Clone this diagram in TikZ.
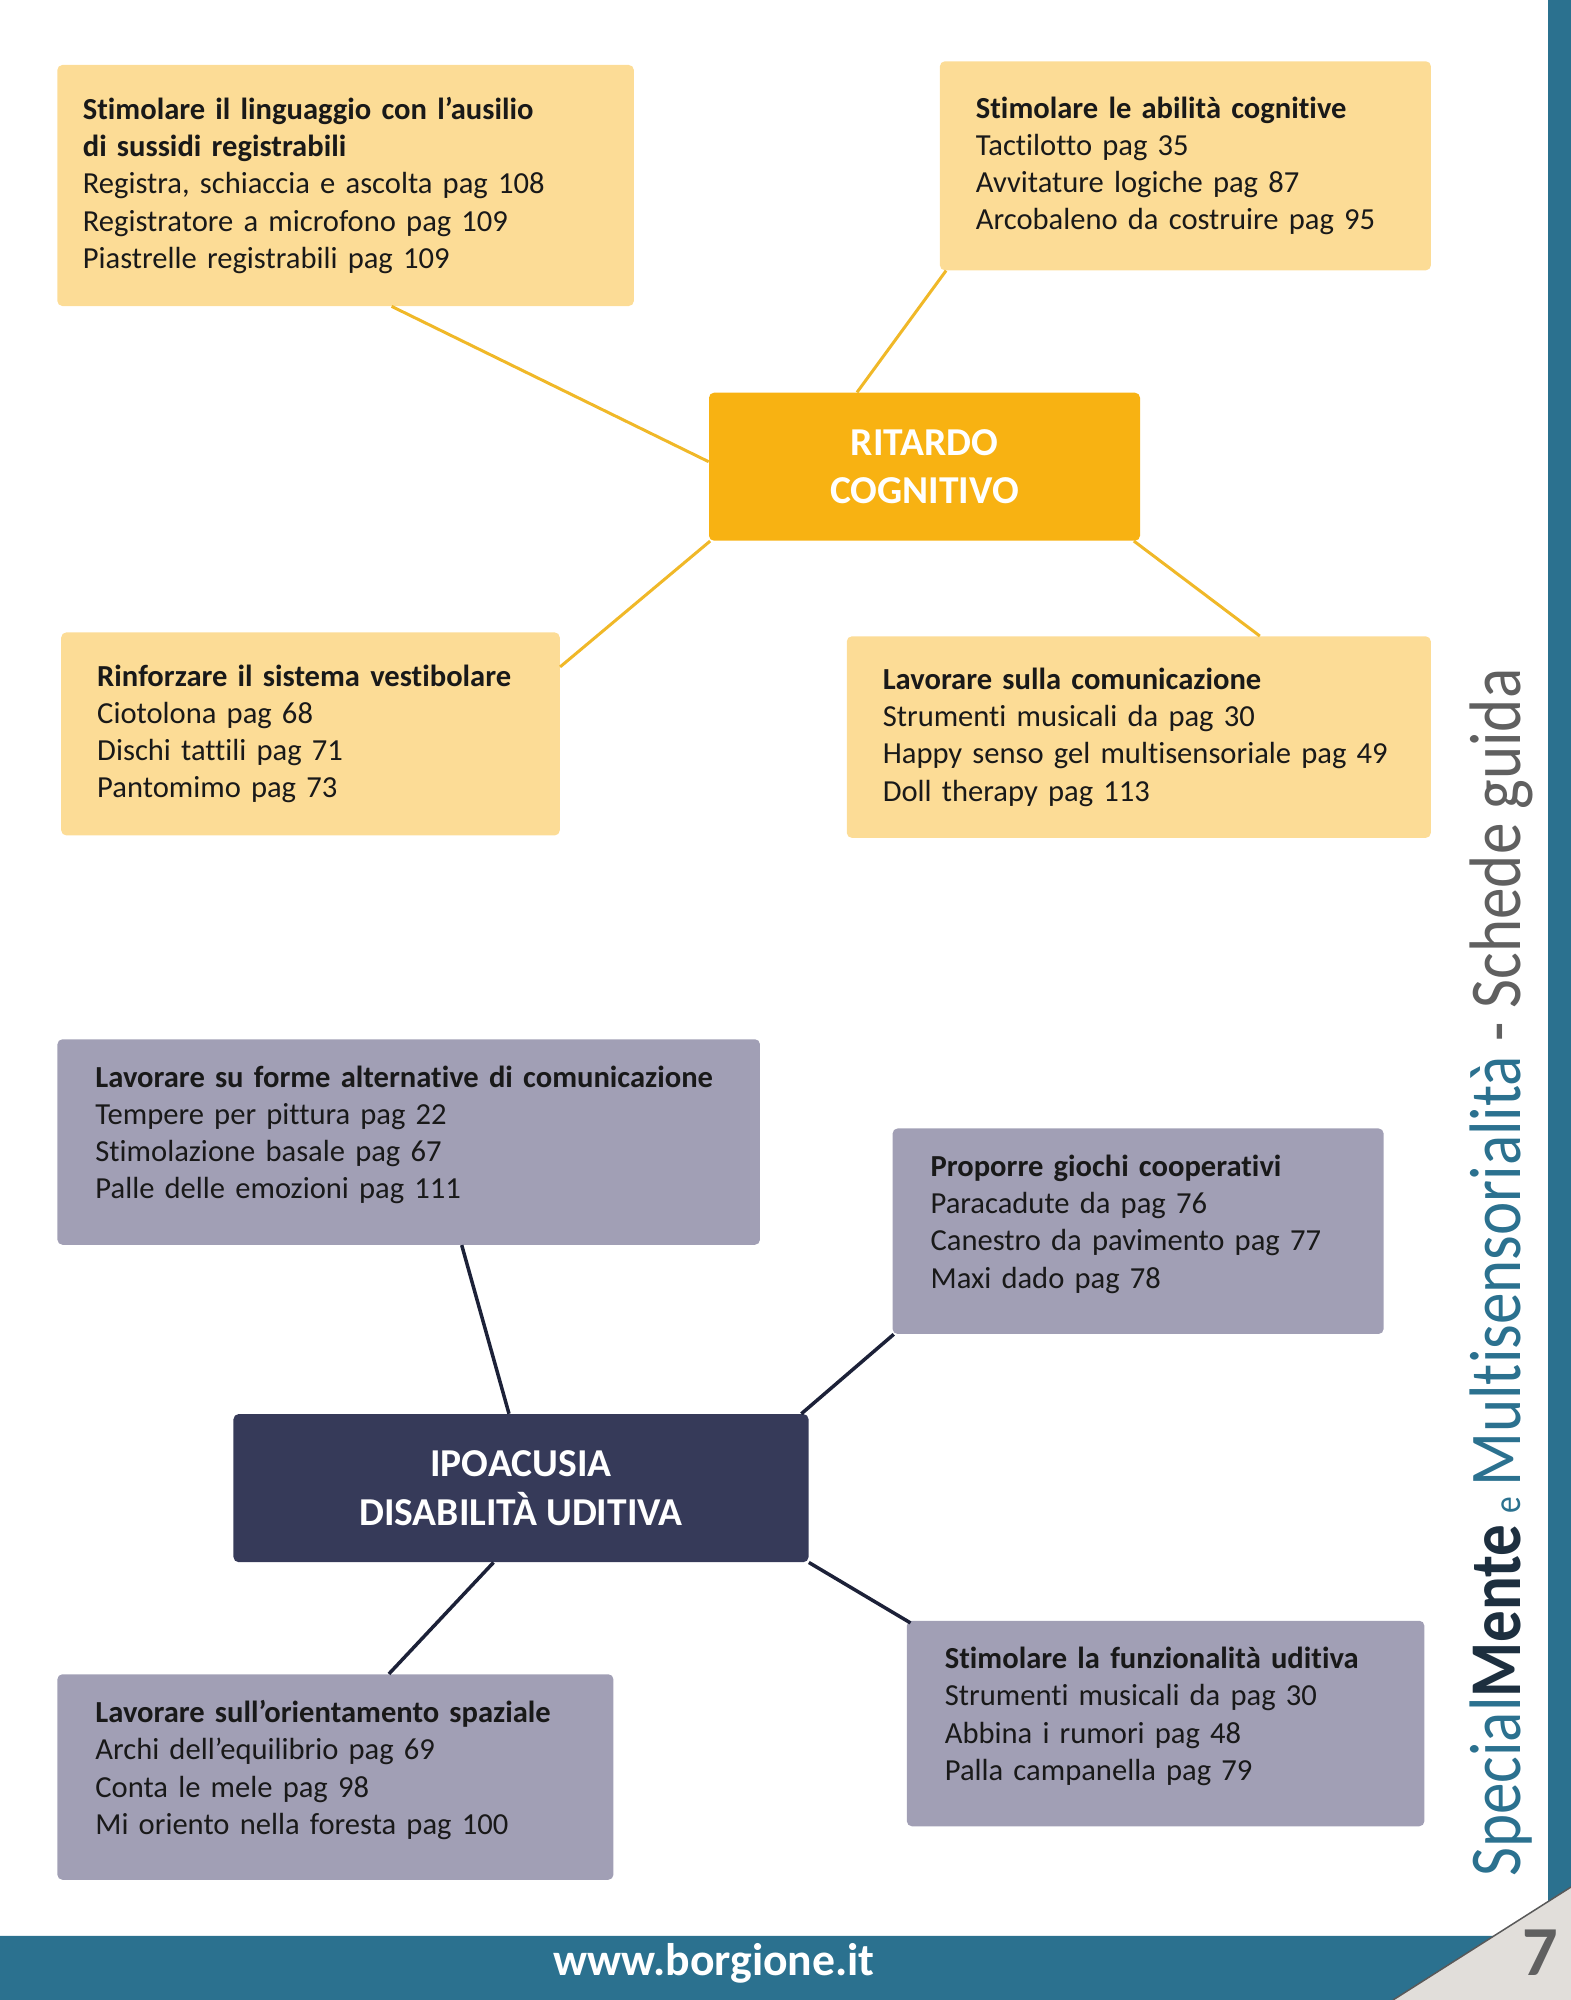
\documentclass[tikz,border=0pt]{standalone}
\usepackage{fontspec}
\setmainfont{Carlito}[Ligatures=NoCommon]
\usepackage{graphicx}
\definecolor{leafyellow}{HTML}{FCDC96}
\definecolor{hubyellow}{HTML}{F8B212}
\definecolor{linkyellow}{HTML}{F0B828}
\definecolor{leafgray}{HTML}{A19FB5}
\definecolor{hubnavy}{HTML}{363A59}
\definecolor{linknavy}{HTML}{1C2138}
\definecolor{barblue}{HTML}{2B718F}
\definecolor{cornergray}{HTML}{E1DEDA}
\definecolor{brandnavy}{HTML}{1D2F3F}
\definecolor{brandgray}{HTML}{606060}
\begin{document}
\begin{tikzpicture}[x=0.2mm, y=-0.2mm,
    leaf/.style={rounded corners=1mm, inner ysep=0pt, align=left, text=black!90,
        font=\fontsize{17.4}{21.2}\selectfont},
    yleaf/.style={leaf, fill=leafyellow},
    gleaf/.style={leaf, fill=leafgray, execute at end node={\rule[-3.9mm]{0pt}{0pt}}},
    hub/.style={rounded corners=1mm, align=center, text=white,
        font=\fontsize{22.5}{27.5}\selectfont\bfseries},
    ylink/.style={draw=linkyellow, line width=0.6mm},
    glink/.style={draw=linknavy, line width=0.7mm}]
    \useasboundingbox (0,0) rectangle (1571,2000);

    % Ritardo cognitivo
    \node[hub, fill=hubyellow, minimum width=86.2mm, minimum height=29.6mm] (rc) at (924.5,466.7) {RITARDO\\COGNITIVO};
    \node[yleaf, inner xsep=5.1mm, text width=105.1mm, minimum height=48.2mm] (lang) at (345.6,185.5)
        {\textbf{Stimolare il linguaggio con l’ausilio}\\\textbf{di sussidi registrabili}\\Registra, schiaccia e ascolta pag 108\\Registratore a microfono pag 109\\Piastrelle registrabili pag 109};
    \node[yleaf, inner xsep=7.2mm, text width=83.8mm, minimum height=41.8mm] (cogn) at (1185.4,165.8)
        {\textbf{Stimolare le abilità cognitive}\\Tactilotto pag 35\\Avvitature logiche pag 87\\Arcobaleno da costruire pag 95};
    \node[yleaf, inner xsep=7.2mm, text width=85.3mm, minimum height=40.6mm] (vest) at (310.5,733.9)
        {\textbf{Rinforzare il sistema vestibolare}\\Ciotolona pag 68\\Dischi tattili pag 71\\Pantomimo pag 73};
    \node[yleaf, inner xsep=7.2mm, text width=102.4mm, minimum height=40.3mm] (comm) at (1138.8,737.1)
        {\textbf{Lavorare sulla comunicazione}\\Strumenti musicali da pag 30\\Happy senso gel multisensoriale pag 49\\Doll therapy pag 113};
    \draw[ylink] ([xshift=9.2mm]lang.south) -- ([yshift=1mm]rc.west);
    \draw[ylink] ([xshift=1.3mm]cogn.south west) -- ([xshift=-13.5mm]rc.north);
    \draw[ylink] ([yshift=13.4mm]vest.east) -- ([xshift=0.3mm]rc.south west);
    \draw[ylink] ([xshift=24.2mm]comm.north) -- ([xshift=-1.3mm]rc.south east);

    % Ipoacusia
    \node[hub, fill=hubnavy, minimum width=115mm, minimum height=29.6mm] (ipo) at (521,1488.1) {IPOACUSIA\\DISABILITÀ UDITIVA};
    \node[gleaf, inner xsep=7.6mm, text width=125.3mm, minimum height=41.1mm] (alt) at (408.7,1142)
        {\mbox{\textbf{Lavorare su forme alternative di comunicazione}}\\Tempere per pittura pag 22\\Stimolazione basale pag 67\\Palle delle emozioni pag 111};
    \node[gleaf, inner xsep=7.6mm, text width=83mm, minimum height=41.1mm] (coop) at (1138.1,1231.2)
        {\textbf{Proporre giochi cooperativi}\\Paracadute da pag 76\\Canestro da pavimento pag 77\\Maxi dado pag 78};
    \node[gleaf, inner xsep=7.6mm, text width=96mm, minimum height=41.1mm] (orient) at (335.4,1777)
        {\textbf{Lavorare sull’orientamento spaziale}\\Archi dell’equilibrio pag 69\\Conta le mele pag 98\\Mi oriento nella foresta pag 100};
    \node[gleaf, inner xsep=7.6mm, text width=88.3mm, minimum height=41.1mm] (udit) at (1165.6,1723.5)
        {\textbf{Stimolare la funzionalità uditiva}\\Strumenti musicali da pag 30\\Abbina i rumori pag 48\\Palla campanella pag 79};
    \draw[glink] ([xshift=10.6mm]alt.south) -- ([xshift=-2.4mm]ipo.north);
    \draw[glink] ([xshift=0.3mm]coop.south west) -- ([xshift=-1.5mm]ipo.north east);
    \draw[glink] ([xshift=10.7mm]orient.north) -- ([xshift=-5.5mm]ipo.south);
    \draw[glink] (ipo.south east) -- ([xshift=0.8mm,yshift=-0.5mm]udit.north west);

    % page frame
    \fill[barblue] (0,1935.8) -- (1494,1935.8) -- (1393,2000) -- (0,2000) -- cycle;
    \fill[barblue] (1548,0) -- (1571,0) -- (1571,1887) -- (1548,1901.6) -- cycle;
    \fill[cornergray] (1393,2000) -- (1571,1887) -- (1571,2000) -- cycle;
    \draw[gray!70!black, line width=0.3mm] (1393,2000) -- (1571,1887);
    \node[text=white, font=\fontsize{26}{26}\selectfont\bfseries] (site) at (714,1963.8) {www.borgione.it};
    \node[text=brandgray, font=\fontsize{40}{40}\selectfont\bfseries] (pagenum) at (1540,1953) {7};
    \node[rotate=90, anchor=base west, inner sep=0pt] (brand) at (1520,1877)
        {\resizebox{241.6mm}{\height}{\fontsize{41.5}{41.5}\selectfont\color{barblue}Special{\color{brandnavy}\bfseries Mente}\,{\fontsize{22}{22}\selectfont\color{barblue}e}\,\color{barblue}Multisensorialità\ {\color{brandgray}- Schede guida}}};
\end{tikzpicture}
\end{document}
